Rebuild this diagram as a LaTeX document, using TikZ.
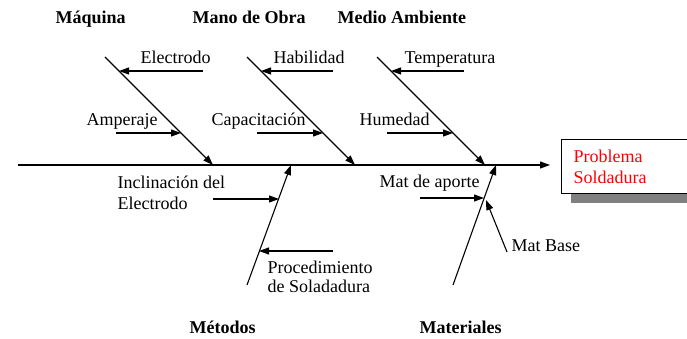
\documentclass[tikz,border=0pt]{standalone}
\usepackage{fontspec}
\setmainfont{Liberation Serif}
\usetikzlibrary{arrows.meta}
\definecolor{shadowgray}{HTML}{808080}
\begin{document}
\begin{tikzpicture}[x=1pt,y=-1pt,
  line width=1.1pt,
  arr/.style={-{Triangle[length=10pt,width=7pt]}},
  lbl/.style={anchor=base west,inner sep=0pt,font=\fontsize{18}{21}\selectfont},
  ttl/.style={anchor=base west,inner sep=0pt,font=\fontsize{18}{21}\selectfont\bfseries},
  red lbl/.style={lbl,text=red},
]
\clip (0,0) rectangle (687,339);
\useasboundingbox (0,0) rectangle (687,339);

% problem box with shadow
\fill[shadowgray] (571,149) rectangle (710,203);
\node[draw,fill=white,line width=0.8pt,anchor=north west,minimum width=139pt,minimum height=54pt,inner sep=0pt] (box) at (561,139) {};
\node[red lbl] (prob1) at (573,162) {Problema};
\node[red lbl] (prob2) at (573,183) {Soldadura};

% spine
\coordinate (s0) at (18,165);
\coordinate (s1) at (550,165);
\draw[arr] (s0) -- (s1);

% titles
\node[ttl] (tmaq) at (55,24) {Máquina};
\node[ttl] (tmano) at (192,24) {Mano de Obra};
\node[ttl] (tmed) at (337,24) {Medio Ambiente};
\node[ttl] (tmet) at (189,333) {Métodos};
\node[ttl] (tmat) at (419,333) {Materiales};

% Maquina branch
\coordinate (m1) at (105,57);
\coordinate (m2) at (213,165);
\draw[arr] (m1) -- (m2);
\coordinate (e1) at (203,71);
\coordinate (e2) at (119,71);
\draw[arr] (e1) -- (e2);
\node[lbl] (lelec) at (140,64) {Electrodo};
\coordinate (a1) at (116,133);
\coordinate (a2) at (181,133);
\draw[arr] (a1) -- (a2);
\node[lbl] (lamp) at (86,126) {Amperaje};

% Mano de Obra branch
\coordinate (o1) at (247,57);
\coordinate (o2) at (355,165);
\draw[arr] (o1) -- (o2);
\coordinate (h1) at (333,71);
\coordinate (h2) at (261,71);
\draw[arr] (h1) -- (h2);
\node[lbl] (lhab) at (273,64) {Habilidad};
\coordinate (c1) at (257,133);
\coordinate (c2) at (323,133);
\draw[arr] (c1) -- (c2);
\node[lbl] (lcap) at (211,126) {Capacitación};

% Medio Ambiente branch
\coordinate (d1) at (377,57);
\coordinate (d2) at (485,165);
\draw[arr] (d1) -- (d2);
\coordinate (t1) at (464,71);
\coordinate (t2) at (391,71);
\draw[arr] (t1) -- (t2);
\node[lbl] (ltemp) at (404,64) {Temperatura};
\coordinate (u1) at (387,133);
\coordinate (u2) at (453,133);
\draw[arr] (u1) -- (u2);
\node[lbl] (lhum) at (359,126) {Humedad};

% Metodos branch
\coordinate (k1) at (247,285);
\coordinate (k2) at (291,165);
\draw[arr] (k1) -- (k2);
\coordinate (i1) at (213,199);
\coordinate (i2) at (279,199);
\draw[arr] (i1) -- (i2);
\node[lbl] (linc1) at (117,188) {Inclinación del};
\node[lbl] (linc2) at (117,209) {Electrodo};
\coordinate (p1) at (333,251);
\coordinate (p2) at (259,251);
\draw[arr] (p1) -- (p2);
\node[lbl] (lproc1) at (267,273) {Procedimiento};
\node[lbl] (lproc2) at (267,292) {de Soladadura};

% Materiales branch
\coordinate (r1) at (453,285);
\coordinate (r2) at (496,165);
\draw[arr] (r1) -- (r2);
\coordinate (x1) at (420,198);
\coordinate (x2) at (484,198);
\draw[arr] (x1) -- (x2);
\node[lbl] (lapo) at (379,187) {Mat de aporte};
\coordinate (b1) at (507,252);
\coordinate (b2) at (486,200);
\draw[arr] (b1) -- (b2);
\node[lbl] (lbase) at (511,251) {Mat Base};
\end{tikzpicture}
\end{document}
